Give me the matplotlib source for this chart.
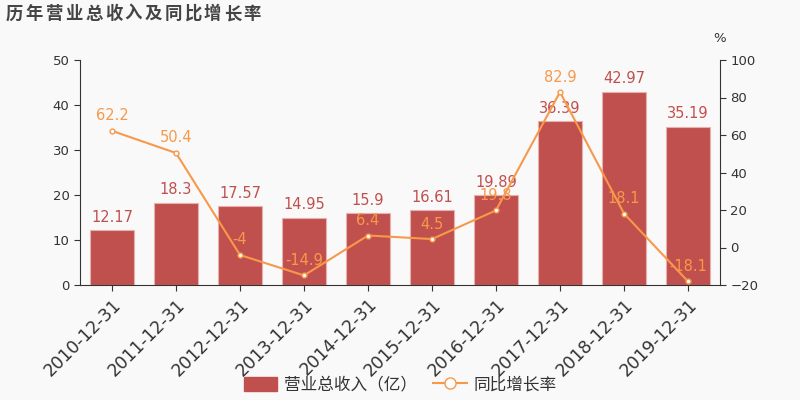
import matplotlib
matplotlib.use("Agg")
import matplotlib.pyplot as plt
from matplotlib.lines import Line2D
from matplotlib.patches import Patch

plt.rcParams['font.family'] = ['Noto Sans CJK SC', 'DejaVu Sans']

categories = ["2010-12-31", "2011-12-31", "2012-12-31", "2013-12-31", "2014-12-31",
              "2015-12-31", "2016-12-31", "2017-12-31", "2018-12-31", "2019-12-31"]
revenue = [12.17, 18.3, 17.57, 14.95, 15.9, 16.61, 19.89, 36.39, 42.97, 35.19]
growth = [62.2, 50.4, -4, -14.9, 6.4, 4.5, 19.8, 82.9, 18.1, -18.1]
revenue_labels = ["12.17", "18.3", "17.57", "14.95", "15.9", "16.61", "19.89", "36.39", "42.97", "35.19"]
growth_labels = ["62.2", "50.4", "-4", "-14.9", "6.4", "4.5", "19.8", "82.9", "18.1", "-18.1"]
title = "历年营业总收入及同比增长率"

bar_color = "#c0504d"
line_color = "#f7994a"
bg = "#f9f9f9"
text_color = "#333333"

fig = plt.figure(figsize=(8, 4), dpi=100, facecolor=bg)
ax = fig.add_axes([0.1, 0.2875, 0.8, 0.5625], facecolor=bg)
ax2 = ax.twinx()

x = list(range(len(categories)))
ax.bar(x, revenue, width=0.7, color=bar_color, edgecolor="#e8b0ae", linewidth=0.8, zorder=2)
for xi, v, lab in zip(x, revenue, revenue_labels):
    ax.text(xi, v + 1.2, lab, ha="center", va="bottom", color=bar_color, fontsize=10.5,
            family=['DejaVu Sans'])

ax.set_xlim(-0.5, len(categories) - 0.5)
ax.set_ylim(0, 50)
ax.set_yticks([0, 10, 20, 30, 40, 50])
ax2.set_ylim(-20, 100)
ax2.set_yticks([-20, 0, 20, 40, 60, 80, 100])

ax2.plot(x, growth, color=line_color, linewidth=1.5, marker="o", markersize=3.5,
         markerfacecolor="white", markeredgecolor=line_color, markeredgewidth=1, zorder=3)
for xi, v, lab in zip(x, growth, growth_labels):
    ax2.text(xi, v + 4.0, lab, ha="center", va="bottom", color=line_color, fontsize=10.5,
             family=['DejaVu Sans'])

ax.set_xticks(x)
ax.set_xticklabels(categories, rotation=45, ha="right", rotation_mode="anchor",
                   fontsize=12.5, color=text_color, family=['DejaVu Sans'])

for a in (ax, ax2):
    a.spines["top"].set_visible(False)
    a.tick_params(colors=text_color, labelsize=9.5, length=4)
    for lab in a.get_yticklabels():
        lab.set_family(['DejaVu Sans'])
ax.spines["right"].set_visible(False)
ax2.spines["left"].set_visible(False)
ax2.spines["bottom"].set_visible(False)
ax.spines["left"].set_color(text_color)
ax.spines["bottom"].set_color(text_color)
ax2.spines["right"].set_color(text_color)
ax.tick_params(axis="x", labelsize=12.5)

fig.text(0.9, 0.905, "%", ha="center", va="center", fontsize=9.5, color=text_color,
         family=['DejaVu Sans'])
# title with wide letter spacing
for i, ch in enumerate(title):
    fig.text((6 + i * 19.8) / 800, 0.965, ch, ha="left", va="center", fontsize=12.5,
             fontweight="bold", color="#444444")

handles = [Patch(facecolor=bar_color, edgecolor=bar_color, label="营业总收入（亿）"),
           Line2D([0], [0], color=line_color, marker="o", markersize=8, markerfacecolor="white",
                  markeredgecolor=line_color, linewidth=1.5, label="同比增长率")]
leg = fig.legend(handles=handles, loc="center", bbox_to_anchor=(0.5, 0.037), ncol=2,
                 frameon=False, fontsize=12, handlelength=2.0, handleheight=0.9,
                 columnspacing=1.0, handletextpad=0.4)
for t in leg.get_texts():
    t.set_color(text_color)

fig.savefig("out.png", dpi=100, facecolor=bg)
